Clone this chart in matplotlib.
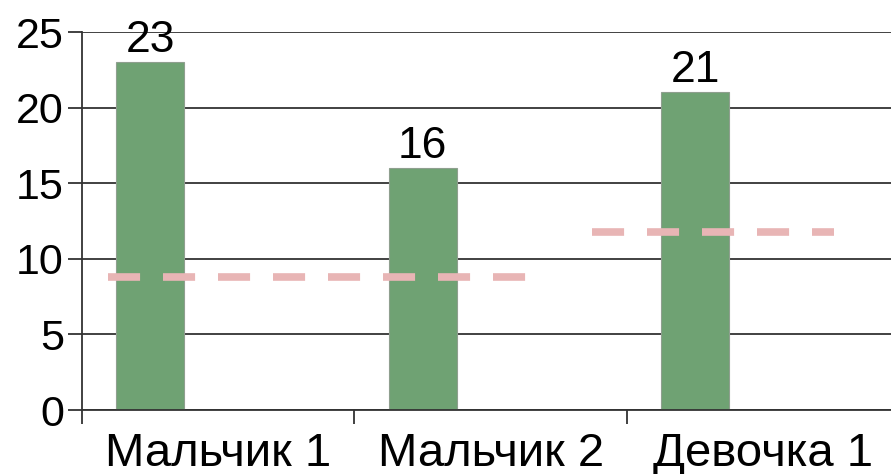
import matplotlib.pyplot as plt

# data
categories = ['Мальчик 1', 'Мальчик 2', 'Девочка 1']
values = [23, 16, 21]
# dashed average lines: (start, end in category units, level)
avg_segments = [(0.095, 1.64, 8.8), (1.87, 2.76, 11.75)]

plt.rcParams['font.family'] = ['Liberation Sans', 'DejaVu Sans']

fig = plt.figure(figsize=(8.91, 4.74), dpi=100)
cat_w = 272.5
ax = fig.add_axes([82 / 891, 64 / 474, 3 * cat_w / 891, 378 / 474])

x = [i + 0.25 for i in range(len(categories))]
bars = ax.bar(x, values, width=0.25, color='#6fa273', edgecolor='#8f9f8f',
              linewidth=0.8, zorder=2)
for xi, v in zip(x, values):
    ax.text(xi, v + 0.1, str(v), ha='center', va='bottom', fontsize=32)

for x0, x1, level in avg_segments:
    ax.plot([x0, x1], [level, level], color='#e8b5b5', linewidth=5.5,
            dashes=(4.2, 3.0), zorder=3)

ax.set_xlim(0, 3)
ax.set_ylim(0, 25)
ax.set_yticks(range(0, 26, 5))
ax.yaxis.grid(True, color='#333333', linewidth=1.3, zorder=1)
ax.set_axisbelow(True)
ax.tick_params(axis='y', labelsize=31, length=10, width=1.3, color='#333333', pad=3)

ax.set_xticks([0, 1, 2, 3])
ax.set_xticklabels([])
ax.set_xticks([i + 0.5 for i in range(len(categories))], minor=True)
ax.set_xticklabels(categories, minor=True, fontsize=34)
ax.tick_params(axis='x', which='major', length=10, width=1.3, color='#333333')
ax.tick_params(axis='x', which='minor', length=0, pad=16)

for s in ['top', 'right']:
    ax.spines[s].set_visible(False)
for s in ['left', 'bottom']:
    ax.spines[s].set_color('#333333')
    ax.spines[s].set_linewidth(1.3)

plt.savefig('out.png', dpi=100)
plt.close()
